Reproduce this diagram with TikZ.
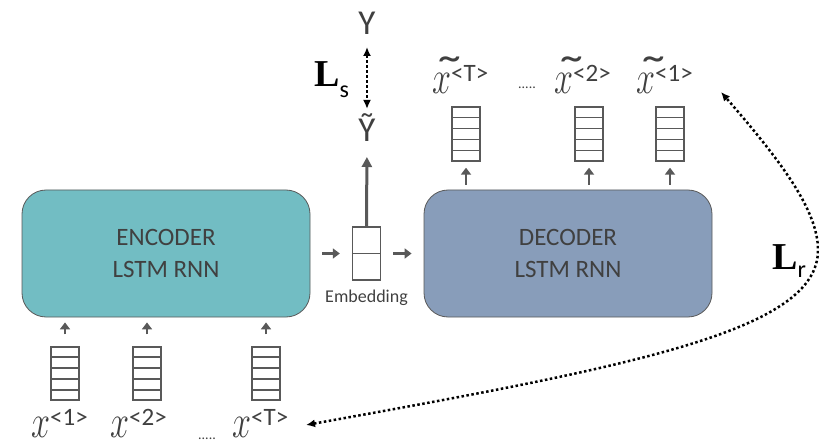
\documentclass[tikz,border=0pt]{standalone}
\usepackage{fix-cm}
\usepackage{fontspec}
\setmainfont{Carlito}
\newfontfamily\lossfont{Liberation Serif}
\usetikzlibrary{arrows.meta,calc}

\definecolor{enccol}{HTML}{72BDC3}
\definecolor{deccol}{HTML}{889DBA}
\definecolor{txtcol}{HTML}{404040}
\definecolor{linecol}{HTML}{595959}

\newcommand{\seqx}{\scalebox{0.95}[1.3]{$x$}}
\newcommand{\seqxt}{\rlap{\hspace{1pt}\raisebox{3pt}{\scalebox{2.0}[1.4]{˜}}}\seqx}
\newcommand{\seqidx}[1]{\raisebox{12pt}{\fontsize{25}{25}\selectfont #1}}

\tikzset{
  rnnbox/.style={draw=linecol, line width=0.8pt, rounded corners=24pt,
    minimum width=288pt, minimum height=127pt, text=txtcol, align=center,
    font=\fontsize{25}{32}\selectfont},
  vecbox/.style={draw=linecol, line width=1.4pt, minimum width=28pt, inner sep=0pt},
  cellline/.style={draw=linecol, line width=1.4pt},
  feed/.style={draw=linecol, line width=2.5pt, -{Triangle[length=7pt,width=10pt]}},
  seqlab/.style={text=txtcol, inner sep=0pt, font=\fontsize{36}{36}\selectfont},
  losslab/.style={inner sep=0pt, font=\lossfont\bfseries\fontsize{38}{38}\selectfont},
  loss/.style={line width=2.5pt, dash pattern=on 2.5pt off 2.5pt,
    {Latex[length=9pt,width=8pt]}-{Latex[length=9pt,width=8pt]}}
}

\begin{document}
\begin{tikzpicture}[x=1pt,y=-1pt]
  \useasboundingbox (0,0) rectangle (819,446);

  \node[rnnbox, fill=enccol] (enc) at (166,253.5) {ENCODER\\LSTM RNN};
  \node[rnnbox, fill=deccol] (dec) at (568,253.5) {DECODER\\LSTM RNN};

  % embedding vector
  \node[vecbox, minimum height=53pt] (emb) at (366.5,253.5) {};
  \draw[cellline] (emb.west) -- (emb.east);
  \node[text=txtcol, font=\fontsize{18}{18}\selectfont, anchor=base] (embtxt) at (366.5,302) {Embedding};
  \draw[feed, shorten <=12pt, shorten >=12pt] (enc.east |- emb) -- (emb.west);
  \draw[feed, shorten <=12pt, shorten >=12pt] (emb.east) -- (dec.west |- emb);

  % inputs
  \foreach \n/\px in {in1/65, in2/147, inT/266} {
    \node[vecbox, minimum height=53pt] (\n) at (\px,373.5) {};
    \foreach \k in {1,...,4}
      \draw[cellline] ($(\n.north west)!\k/5!(\n.south west)$) -- ($(\n.north east)!\k/5!(\n.south east)$);
    \draw[feed, shorten <=12pt, shorten >=5pt] (\n.north) -- (\n |- enc.south);
  }

  % outputs
  \foreach \n/\px in {outT/466, out2/589, out1/670} {
    \node[vecbox, minimum height=54pt] (\n) at (\px,134) {};
    \foreach \k in {1,...,4}
      \draw[cellline] ($(\n.north west)!\k/5!(\n.south west)$) -- ($(\n.north east)!\k/5!(\n.south east)$);
    \draw[feed, shorten <=5pt, shorten >=6pt] (\n |- dec.north) -- (\n.south);
  }

  \node[seqlab, anchor=base west] (xin1) at (31,437) {\seqx\seqidx{<1>}};
  \node[seqlab, anchor=base west] (xin2) at (110,437) {\seqx\seqidx{<2>}};
  \node[text=txtcol, font=\fontsize{14}{14}\selectfont, anchor=base] (indots) at (207,439) {.....};
  \node[seqlab, anchor=base west] (xinT) at (232,437) {\seqx\seqidx{<T>}};

  \node[seqlab, anchor=base west] (xoutT) at (432,94) {\seqxt\seqidx{<T>}};
  \node[text=txtcol, font=\fontsize{14}{14}\selectfont, anchor=base] (outdots) at (527,89) {.....};
  \node[seqlab, anchor=base west] (xout2) at (554,94) {\seqxt\seqidx{<2>}};
  \node[seqlab, anchor=base west] (xout1) at (636,94) {\seqxt\seqidx{<1>}};

  % prediction
  \node[seqlab, font=\fontsize{35}{35}\selectfont, anchor=base] (yhat) at (367,142) {Ỹ};
  \node[seqlab, font=\fontsize{35}{35}\selectfont, anchor=base] (y) at (367,35) {Y};
  \draw[draw=linecol, line width=3pt, -{Triangle[length=10pt,width=10pt]}, shorten >=15pt] (emb.north) -- (yhat.base);

  % losses
  \draw[loss, shorten <=12pt, shorten >=5pt] (y.base) -- (yhat.north);
  \node[losslab, anchor=base west] (ls) at (314,87) {L\raisebox{-11pt}{\normalfont\fontsize{24}{24}\selectfont s}};
  \node[losslab, anchor=base west] (lr) at (772,270) {L\raisebox{-8pt}{\normalfont\fontsize{24}{24}\selectfont r}};

  \coordinate (lrstart) at (306,425);
  \coordinate (lrend) at (721,92);
  \draw[loss] (lrstart) .. controls (640,365) and (818,330) .. (818,250)
    .. controls (818,210) and (780,160) .. (lrend);
\end{tikzpicture}
\end{document}
